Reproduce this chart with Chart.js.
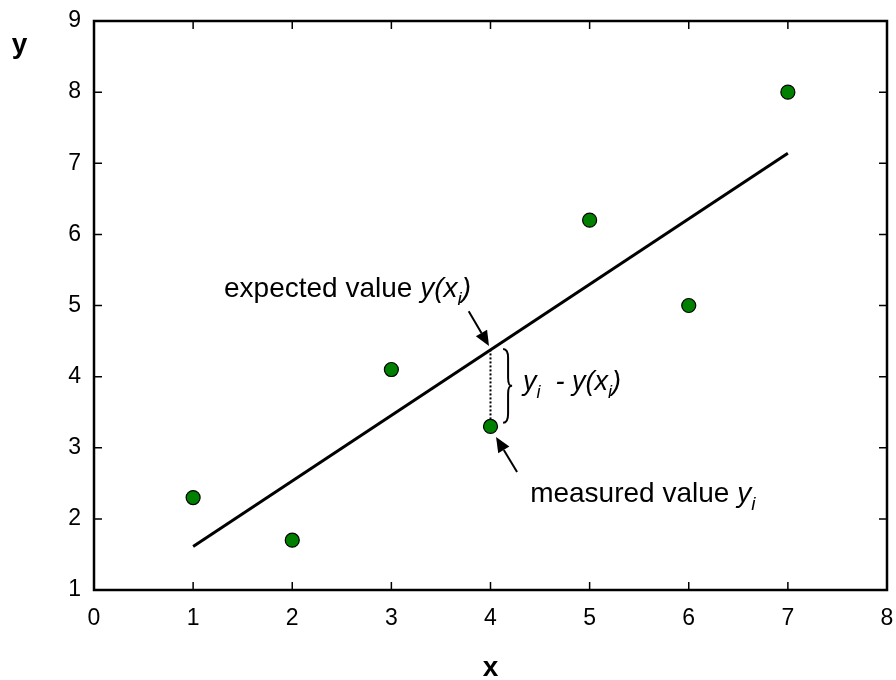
<!DOCTYPE html>
<html>
<head>
<meta charset="utf-8">
<script src="https://cdn.jsdelivr.net/npm/chart.js@4.4.1/dist/chart.umd.min.js"></script>
<style>
html,body{margin:0;padding:0;background:#fff;}
#wrap{width:896px;height:680px;}
</style>
</head>
<body>
<div id="wrap"><canvas id="c" width="896" height="680"></canvas></div>
<script>
// ---- data ----
const xValues = [1, 2, 3, 4, 5, 6, 7];
const yValues = [2.3, 1.7, 4.1, 3.3, 6.2, 5.0, 8.0];
const fitX = [1, 7];
const fitY = [1.61, 7.14];
const xTicks = [0, 1, 2, 3, 4, 5, 6, 7, 8];
const yTicks = [1, 2, 3, 4, 5, 6, 7, 8, 9];
const xAxisTitle = 'x';
const yAxisTitle = 'y';
const highlightIndex = 3;      // the point at x = 4
const expectedAtHighlight = 4.37;

const FONT = '"Liberation Sans", Arial, Helvetica, sans-serif';

function drawRich(ctx, parts, x, y, size) {
  let cx = x;
  ctx.textAlign = 'left';
  ctx.textBaseline = 'alphabetic';
  parts.forEach(p => {
    const s = p.sub ? Math.round(size * 0.68) : size;
    ctx.font = (p.it ? 'italic ' : '') + s + 'px ' + FONT;
    ctx.fillText(p.t, cx, y + (p.sub ? size * 0.28 : 0));
    cx += ctx.measureText(p.t).width;
  });
}

function arrow(ctx, x1, y1, x2, y2) {
  const ang = Math.atan2(y2 - y1, x2 - x1);
  const L = 15, W = 6.5;
  const bx = x2 - L * Math.cos(ang), by = y2 - L * Math.sin(ang);
  ctx.beginPath();
  ctx.moveTo(x1, y1);
  ctx.lineTo(bx, by);
  ctx.lineWidth = 2;
  ctx.stroke();
  ctx.beginPath();
  ctx.moveTo(x2, y2);
  ctx.lineTo(bx + W * Math.sin(ang), by - W * Math.cos(ang));
  ctx.lineTo(bx - W * Math.sin(ang), by + W * Math.cos(ang));
  ctx.closePath();
  ctx.fill();
}

const decor = {
  id: 'decor',
  afterDatasetsDraw(chart) {
    const ctx = chart.ctx, a = chart.chartArea;
    const xs = chart.scales.x, ys = chart.scales.y;
    const X = v => xs.getPixelForValue(v), Y = v => ys.getPixelForValue(v);
    ctx.save();
    ctx.strokeStyle = '#000';
    ctx.fillStyle = '#000';
    // frame
    ctx.lineWidth = 2.5;
    ctx.strokeRect(a.left, a.top, a.right - a.left, a.bottom - a.top);
    // inward ticks
    ctx.lineWidth = 1.5;
    ctx.beginPath();
    xTicks.slice(1, -1).forEach(v => {
      const px = X(v);
      ctx.moveTo(px, a.bottom); ctx.lineTo(px, a.bottom - 8);
      ctx.moveTo(px, a.top); ctx.lineTo(px, a.top + 8);
    });
    yTicks.slice(1, -1).forEach(v => {
      const py = Y(v);
      ctx.moveTo(a.left, py); ctx.lineTo(a.left + 8, py);
      ctx.moveTo(a.right, py); ctx.lineTo(a.right - 8, py);
    });
    ctx.stroke();

    // dotted residual line
    const hx = X(xValues[highlightIndex]);
    ctx.lineWidth = 2;
    ctx.setLineDash([2, 2]);
    ctx.beginPath();
    ctx.moveTo(hx, Y(yValues[highlightIndex]) - 7);
    ctx.lineTo(hx, Y(expectedAtHighlight));
    ctx.stroke();
    ctx.setLineDash([]);

    // brace
    const bl = X(4.127), bt = X(4.218);
    const top = Y(4.39), bot = Y(3.35), mid = (top + bot) / 2;
    const sx = bl + 5;
    ctx.lineWidth = 2;
    ctx.beginPath();
    ctx.moveTo(bl, top);
    ctx.bezierCurveTo(bl + 4, top, sx, top + 3, sx, top + 9);
    ctx.lineTo(sx, mid - 8);
    ctx.bezierCurveTo(sx, mid - 2, bt - 3, mid, bt, mid);
    ctx.bezierCurveTo(bt - 3, mid, sx, mid + 2, sx, mid + 8);
    ctx.lineTo(sx, bot - 9);
    ctx.bezierCurveTo(sx, bot - 3, bl + 4, bot, bl, bot);
    ctx.stroke();

    // arrows
    arrow(ctx, X(3.78), Y(4.92), X(3.985), Y(4.43));
    arrow(ctx, X(4.268), Y(2.66), X(4.056), Y(3.15));

    // labels
    ctx.fillStyle = '#000';
    drawRich(ctx, [
      {t: 'expected value '},
      {t: 'y(x', it: true},
      {t: 'i', it: true, sub: true},
      {t: ')', it: true}
    ], X(1.312), Y(5.12), 28);
    drawRich(ctx, [
      {t: 'measured value '},
      {t: 'y', it: true},
      {t: 'i', it: true, sub: true}
    ], X(4.40), Y(2.238), 28);
    drawRich(ctx, [
      {t: 'y', it: true},
      {t: 'i', it: true, sub: true},
      {t: '  - ', it: true},
      {t: 'y(x', it: true},
      {t: 'i', it: true, sub: true},
      {t: ')', it: true}
    ], X(4.329), Y(3.81), 27);

    // axis titles
    ctx.font = 'bold 28px ' + FONT;
    ctx.textAlign = 'center';
    ctx.textBaseline = 'alphabetic';
    ctx.fillText(yAxisTitle, 19.5, 53);
    ctx.fillText(xAxisTitle, X(4), 676);
    ctx.restore();
  }
};

new Chart(document.getElementById('c'), {
  type: 'scatter',
  data: {
    datasets: [
      {
        type: 'line',
        data: fitX.map((x, i) => ({x, y: fitY[i]})),
        borderColor: '#000',
        borderWidth: 3,
        pointRadius: 0,
        fill: false,
        order: 2
      },
      {
        data: xValues.map((x, i) => ({x, y: yValues[i]})),
        backgroundColor: '#008000',
        borderColor: '#000',
        borderWidth: 1.2,
        pointRadius: 7,
        order: 1
      }
    ]
  },
  options: {
    responsive: false,
    animation: false,
    devicePixelRatio: 1,
    layout: {padding: {top: 21, right: 9, left: 0, bottom: 0}},
    plugins: {legend: {display: false}, tooltip: {enabled: false}},
    scales: {
      x: {
        type: 'linear', min: 0, max: 8,
        afterFit: s => { s.height = 90; s.paddingLeft = 0; s.paddingRight = 0; },
        afterBuildTicks: s => { s.ticks = xTicks.map(v => ({value: v})); },
        grid: {display: false, drawTicks: false},
        border: {display: false},
        ticks: {color: '#000', font: {family: FONT, size: 23}, padding: 15}
      },
      y: {
        type: 'linear', min: 1, max: 9,
        afterFit: s => { s.width = 94; s.paddingTop = 0; s.paddingBottom = 0; },
        afterBuildTicks: s => { s.ticks = yTicks.map(v => ({value: v})); },
        grid: {display: false, drawTicks: false},
        border: {display: false},
        ticks: {color: '#000', font: {family: FONT, size: 23}, padding: 13}
      }
    }
  },
  plugins: [decor]
});
</script>
</body>
</html>
